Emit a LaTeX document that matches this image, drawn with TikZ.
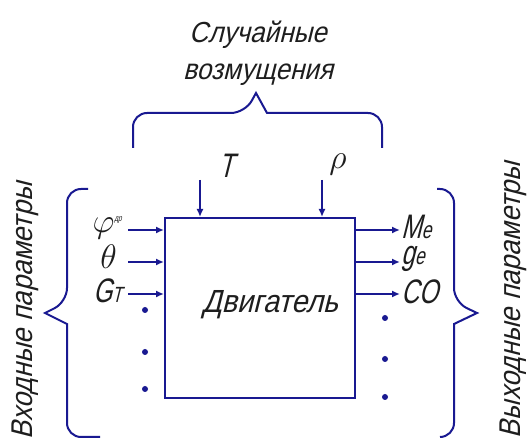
\RequirePackage{fix-cm}
\documentclass[tikz,border=0pt]{standalone}
\usepackage{fontspec}
\setmainfont{Liberation Sans}[FakeSlant=0.25, FakeStretch=0.9]
\newfontfamily\gostvar{Liberation Sans}[FakeSlant=0.25, FakeStretch=0.72]
\usetikzlibrary{arrows.meta}
\definecolor{lineblue}{RGB}{25,25,145}
\definecolor{txt}{RGB}{30,30,30}
\begin{document}
\begin{tikzpicture}[x=1pt,y=-1pt,
  ln/.style={draw=lineblue, line width=2pt},
  arr/.style={ln, -{Latex[length=8pt,width=7pt]}},
  bracepath/.style={ln, rounded corners=14pt},
  lbl/.style={text=txt, inner sep=0pt, font=\fontsize{29}{32}\selectfont},
  var/.style={text=txt, inner sep=0pt, font=\gostvar\fontsize{34}{34}\selectfont},
  dotc/.style={fill=lineblue, circle, inner sep=0pt, minimum size=6pt},
]
\path[use as bounding box] (0,0) rectangle (528,443);
\fill[white] (0,0) rectangle (528,443);

% engine box
\node[ln, minimum width=190pt, minimum height=180pt, inner sep=0pt] (eng) at (260,308) {};
\node[lbl, font=\fontsize{32}{34}\selectfont] (engtxt) at (270,305) {Двигатель};

% top text
\node[lbl, anchor=base] (dist1) at (258,43) {Случайные};
\node[lbl, anchor=base] (dist2) at (258,80) {возмущения};

% top brace
\draw[bracepath] (133,148) -- (133,113) -- (245,113) [sharp corners] -- (256,93) -- (267,113) [rounded corners=14pt] -- (382,113) -- (382,148);

% disturbances
\node[var] (T) at (226,166) {T};
\node[var] (rho) at (338,164) {$\rho$};
\coordinate (Tst) at (200,180);
\coordinate (rhost) at (322,180);
\draw[arr] (Tst) -- (Tst |- eng.north);
\draw[arr] (rhost) -- (rhost |- eng.north);

% inputs
\coordinate (i1) at (128,230);
\coordinate (i2) at (128,262);
\coordinate (i3) at (128,294);
\draw[arr] (i1) -- (i1 -| eng.west);
\draw[arr] (i2) -- (i2 -| eng.west);
\draw[arr] (i3) -- (i3 -| eng.west);
\node[var, anchor=east] (phi) at (122,228) {$\varphi$\raisebox{11pt}{\fontsize{9}{10}\selectfont др}};
\node[var, anchor=east] (theta) at (117,257) {$\theta$};
\node[var, anchor=east] (GT) at (122,291) {G\fontsize{22}{24}\selectfont T};

% outputs
\coordinate (o1) at (400,230);
\coordinate (o2) at (400,262);
\coordinate (o3) at (400,294);
\draw[arr] (o1 -| eng.east) -- (o1);
\draw[arr] (o2 -| eng.east) -- (o2);
\draw[arr] (o3 -| eng.east) -- (o3);
\node[var, anchor=west] (Me) at (401,227) {M\fontsize{24}{24}\selectfont e};
\node[var, anchor=west] (ge) at (401,259) {g\fontsize{24}{24}\selectfont e};
\node[var, anchor=west] (CO) at (401,292) {CO};

% dots
\node[dotc] (ld1) at (145,310) {};
\node[dotc] (ld2) at (145,352) {};
\node[dotc] (ld3) at (145,389) {};
\node[dotc] (rd1) at (385,318) {};
\node[dotc] (rd2) at (385,359) {};
\node[dotc] (rd3) at (385,397) {};

% left brace
\draw[bracepath] (88,189) -- (67,189) -- (67,302) [sharp corners] -- (45,313) -- (67,324) [rounded corners=14pt] -- (67,437) -- (100,437);
% right brace
\draw[bracepath] (437,189) -- (454,189) -- (454,302) [sharp corners] -- (477,313) -- (454,324) [rounded corners=14pt] -- (454,437) -- (440,437);

% side labels
\node[lbl, rotate=90, font=\fontsize{30}{32}\selectfont] (inlbl) at (25,311) {Входные параметры};
\node[lbl, rotate=90, font=\fontsize{30}{32}\selectfont] (outlbl) at (513,300) {Выходные параметры};
\end{tikzpicture}
\end{document}
